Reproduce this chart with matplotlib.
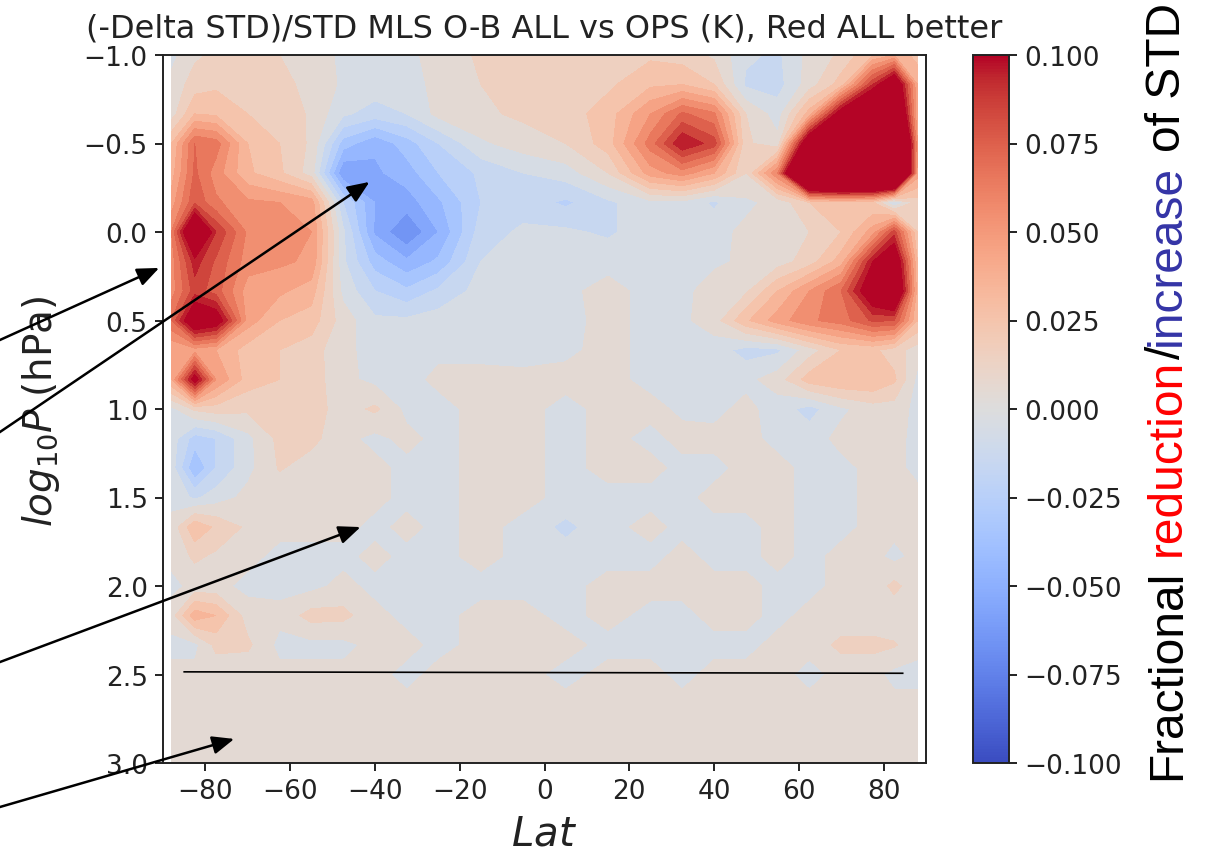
import matplotlib
matplotlib.use('Agg')
import numpy as np
import matplotlib.pyplot as plt
from matplotlib import ticker, colors, cm
from matplotlib.font_manager import FontProperties

# ---------------- data ----------------
lat = [-88, -82.5, -77.5, -70, -62.5, -55, -47.5, -40, -32.5, -25, -15, -5,
       5, 15, 25, 32.5, 40, 47.5, 55, 62.5, 70, 77.5, 82.5, 88]
logp = [-1.0, -0.833, -0.667, -0.5, -0.333, -0.167, 0.0, 0.167, 0.333, 0.5,
        0.667, 0.833, 1.0, 1.167, 1.333, 1.5, 1.667, 1.833, 2.0, 2.167, 2.333,
        2.5, 2.667, 2.833, 3.0]
# fractional STD reduction, in thousandths (rows = logp, cols = lat)
frac_permille = [
    [-3, 8, 12, 12, 10, 5, -2, -3, -2, 3, 12, 14, 12, 15, 18, 15, 8, -8, -12, 3, 12, 30, 40, 25],
    [3, 15, 18, 15, 12, 8, -2, -4, -3, 2, 10, 12, 12, 18, 28, 30, 20, -12, -14, 5, 25, 90, 130, 40],
    [5, 30, 28, 20, 18, 8, -8, -15, -10, 3, 8, 12, 15, 25, 50, 72, 62, 10, -5, 35, 115, 160, 160, 40],
    [30, 70, 65, 30, 20, 8, -35, -48, -35, -20, -2, 5, 10, 25, 65, 100, 85, 12, 3, 130, 200, 220, 220, 50],
    [35, 72, 55, 32, 22, 5, -60, -52, -45, -30, -18, -10, -5, 10, 45, 55, 40, 10, 60, 220, 230, 230, 230, 45],
    [45, 78, 62, 52, 50, 45, -20, -50, -55, -42, -20, -15, -22, -12, -3, -3, -12, -2, 3, 20, 25, 20, -12, 15],
    [60, 140, 90, 58, 55, 50, -8, -52, -70, -50, -15, -8, -8, -12, -3, -5, -3, 2, 3, 10, 20, 45, 85, 20],
    [55, 95, 78, 55, 52, 48, -8, -35, -48, -38, -10, -5, -3, -3, -3, -3, -2, 2, 5, 15, 35, 100, 125, 30],
    [55, 85, 75, 45, 42, 35, -3, -20, -28, -18, -6, -3, -2, 3, -3, -3, 5, 8, 30, 50, 70, 120, 140, 35],
    [70, 125, 115, 45, 30, 25, 5, -8, -8, -5, -3, -2, -3, 3, -3, -2, 5, 28, 45, 58, 65, 82, 80, 30],
    [40, 45, 40, 25, 20, 15, 2, -3, -3, -2, -3, -3, -2, 3, -3, -3, -5, -14, -12, 5, 20, 22, 15, 5],
    [40, 110, 50, 25, 20, 15, 3, -3, -3, 2, 3, 2, 3, 3, -3, -3, -3, -3, 5, 25, 30, 30, 22, -3],
    [-3, 12, 15, 12, 18, 15, 5, 12, -3, -3, 3, 3, -3, 3, 3, -2, -3, 3, -5, -14, -2, 5, 5, -3],
    [-5, -25, -20, -3, 13, 13, 3, -3, 3, -3, 3, 3, -3, 3, -3, 3, 3, 3, -3, -5, 3, 3, 3, -3],
    [-5, -40, -20, -3, 11, 5, 3, 3, -3, -3, 3, 3, -3, 3, 3, -3, -3, 3, 3, -3, -3, 3, 3, -3],
    [-3, -12, -5, 3, 3, 3, 3, 3, -3, -3, 3, 3, -3, -3, -3, -3, 3, 3, 3, -3, -3, 3, 3, 3],
    [3, 28, 18, 8, 3, 3, 3, -3, 3, -3, 3, -3, -13, -3, 3, -3, -3, -3, 3, -3, -3, 3, 3, 3],
    [3, 12, 8, 3, -3, -3, -3, 3, -3, -3, 3, -3, -5, -3, -3, 3, -3, -3, 3, -3, 3, 3, -3, 3],
    [-3, 3, 3, -3, -3, -3, 3, -3, -3, -3, -3, -3, -3, 3, 3, 3, 3, 3, -3, -3, 3, 3, 13, 3],
    [5, 36, 30, 5, 3, 14, 13, 3, -3, -3, 3, 3, -3, 3, -3, -3, 3, 3, -3, 3, 3, 3, 3, 3],
    [-3, -3, 13, 12, -3, -3, -3, 3, 3, -3, 3, 3, 3, -3, -3, -3, -3, -3, 3, 3, 13, 13, 11, 3],
    [3, 3, 3, 3, 3, 3, 3, 3, -3, 3, 3, 3, -3, 3, 3, -3, 3, 3, 3, -3, 3, 3, -3, -3],
    [3] * 24,
    [3] * 24,
    [3] * 24,
]

line_lat = [-85, 84.5]
line_logp = [2.485, 2.493]

# arrows: head (lat, log10P) and tail in figure pixels (from top-left)
arrow_heads = [(-90.9, 0.203), (-41.3, -0.283), (-43.4, 1.667), (-73.2, 2.864)]
arrow_tails_px = [(-20, 350), (-20, 446.5), (-20, 670.5), (-20, 813.8)]

cbar_ticks = [-0.1, -0.075, -0.05, -0.025, 0.0, 0.025, 0.05, 0.075, 0.1]
title = "(-Delta STD)/STD MLS O-B ALL vs OPS (K), Red ALL better"

# ---------------- figure ----------------
W, H = 1206, 853
fig = plt.figure(figsize=(W / 100, H / 100), dpi=100)
ax = fig.add_axes([163 / W, 1 - 764 / H, (926 - 163) / W, (764 - 56) / H])
cax = fig.add_axes([973 / W, 1 - 764 / H, 36 / W, (764 - 56) / H])

z = np.array(frac_permille, dtype=float) / 1000.0
levels = np.linspace(-0.1, 0.1, 21)
ax.contourf(lat, logp, z, levels=levels, cmap='coolwarm', extend='both')
ax.plot(line_lat, line_logp, color='black', lw=1.2)

ax.set_xlim(-90, 90)
ax.set_ylim(3.0, -1.0)
ax.set_xticks([-80, -60, -40, -20, 0, 20, 40, 60, 80])
ax.set_yticks([-1.0, -0.5, 0.0, 0.5, 1.0, 1.5, 2.0, 2.5, 3.0])
ax.yaxis.set_major_formatter(ticker.FuncFormatter(lambda v, _: f"{v:.1f}".replace('-', '\u2212')))
ax.xaxis.set_major_formatter(ticker.FuncFormatter(lambda v, _: f"{v:.0f}".replace('-', '\u2212')))
ax.tick_params(labelsize=19, length=6, width=1.4, pad=5, colors='#222222', labelcolor='#222222')
for s in ax.spines.values():
    s.set_linewidth(1.4)
    s.set_color('#222222')

ax.set_title(title, fontsize=23, pad=13, color='#222222')
ax.set_xlabel('$Lat$', fontsize=29, color='#222222')
ax.xaxis.set_label_coords(0.5, -0.072)
ax.set_ylabel('$log_{10}P$ (hPa)', fontsize=28, color='#222222')
ax.yaxis.set_label_coords(-0.132, 0.499)

sm = cm.ScalarMappable(norm=colors.Normalize(-0.1, 0.1), cmap='coolwarm')
cb = fig.colorbar(sm, cax=cax, ticks=cbar_ticks)
cb.ax.yaxis.set_major_formatter(ticker.FuncFormatter(
    lambda v, _: f"{(0.0 if abs(v) < 1e-12 else v):.3f}".replace('-', '\u2212')))
cb.ax.tick_params(labelsize=19, length=6, width=1.4, pad=5, colors='#222222', labelcolor='#222222')
cb.outline.set_linewidth(1.4)
cb.outline.set_edgecolor('#222222')

# arrows
for (hx, hy), (tx, ty) in zip(arrow_heads, arrow_tails_px):
    ax.annotate('', xy=(hx, hy), xycoords='data',
                xytext=(tx, H - ty), textcoords='figure pixels',
                annotation_clip=False,
                arrowprops=dict(arrowstyle='-|>,head_length=0.6,head_width=0.25',
                                lw=1.8, color='black', shrinkA=0, shrinkB=0,
                                mutation_scale=22))

# multi-coloured colorbar label
full = "Fractional reduction/increase of STD"
pieces = [("Fractional", 0, 'black'), ("reduction", 11, '#ff0000'), ("/", 20, 'black'),
          ("increase", 21, '#3434a6'), ("of STD", 30, 'black')]
prop = FontProperties(family='Liberation Sans', size=34.5)
renderer = fig.canvas.get_renderer()


def width(s):
    w, h, d = renderer.get_text_width_height_descent(s, prop, ismath=False)
    return w


x0 = 1180 / W
y0 = 853 - 780
for text, start, col in pieces:
    off = 0 if start == 0 else width(full[:start + 1]) - width(full[start])
    fig.text(x0, (y0 + off) / H, text, rotation=90, rotation_mode='anchor',
             ha='left', va='baseline', fontproperties=prop, color=col)

fig.savefig('out.png', dpi=100)
